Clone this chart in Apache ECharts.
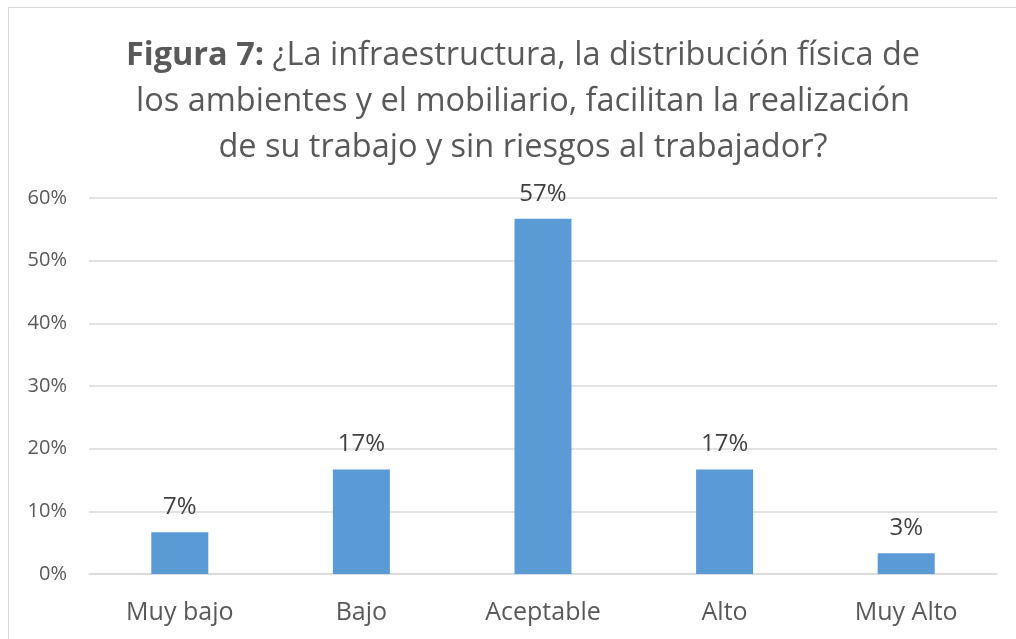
<!DOCTYPE html>
<html>
<head>
<meta charset="utf-8">
<script src="https://cdn.jsdelivr.net/npm/echarts@6/dist/echarts.min.js"></script>
<style>
  html, body { margin: 0; padding: 0; background: #fff; }
  #chart { width: 1016px; height: 639px; }
</style>
</head>
<body>
<div id="chart"></div>
<script>
var categories = ["Muy bajo", "Bajo", "Aceptable", "Alto", "Muy Alto"];
// share of answers (fractions), labels rounded to whole percent
var values = [0.0667, 0.1667, 0.5667, 0.1667, 0.0333];
var titleLines = [
  "¿La infraestructura, la distribución física de",
  "los ambientes y el mobiliario, facilitan la realización",
  "de su trabajo y sin riesgos al trabajador?"
];
var titlePrefix = "Figura 7:";

var font = "Open Sans";
var chart = echarts.init(document.getElementById("chart"));

var option = {
  animation: false,
  textStyle: { fontFamily: font },
  graphic: [
    {
      // chart frame (cut off at right and bottom in the source)
      type: "rect",
      shape: { x: 8.5, y: 7.5, width: 1100, height: 700 },
      style: { fill: null, stroke: "#d9d9d9", lineWidth: 1 },
      silent: true
    }
  ],
  title: [
    {
      text: "{b|" + titlePrefix + "} " + titleLines[0],
      left: 518, textAlign: "center", top: 34,
      textStyle: {
        fontFamily: font, fontSize: 32.5, fontWeight: "normal", color: "#595959",
        rich: { b: { fontFamily: font, fontSize: 32.5, fontWeight: "bold", color: "#595959" } }
      }
    },
    {
      text: titleLines[1],
      left: 518, textAlign: "center", top: 80,
      textStyle: { fontFamily: font, fontSize: 32.5, fontWeight: "normal", color: "#595959" }
    },
    {
      text: titleLines[2],
      left: 518, textAlign: "center", top: 126,
      textStyle: { fontFamily: font, fontSize: 32.5, fontWeight: "normal", color: "#595959" }
    }
  ],
  grid: { left: 89, right: 19, top: 198, bottom: 65, containLabel: false },
  xAxis: {
    type: "category",
    data: categories,
    axisLine: { lineStyle: { color: "#d9d9d9", width: 1.5 } },
    axisTick: { show: false },
    axisLabel: { color: "#595959", fontSize: 25, margin: 26, fontFamily: font }
  },
  yAxis: {
    type: "value",
    min: 0, max: 0.6, interval: 0.1,
    axisLine: { show: false },
    axisTick: { show: false },
    splitLine: { lineStyle: { color: "#d9d9d9", width: 1.5 } },
    axisLabel: {
      color: "#595959", fontSize: 20, margin: 22, fontFamily: font,
      formatter: function (v) { return Math.round(v * 100) + "%"; }
    }
  },
  series: [
    {
      type: "bar",
      data: values,
      barWidth: "31.4%",
      itemStyle: { color: "#5b9bd5" },
      label: {
        show: true,
        position: "top",
        distance: 13,
        color: "#404040",
        fontSize: 24,
        fontFamily: font,
        formatter: function (p) { return Math.round(p.value * 100) + "%"; }
      }
    }
  ]
};

chart.setOption(option);
</script>
</body>
</html>
